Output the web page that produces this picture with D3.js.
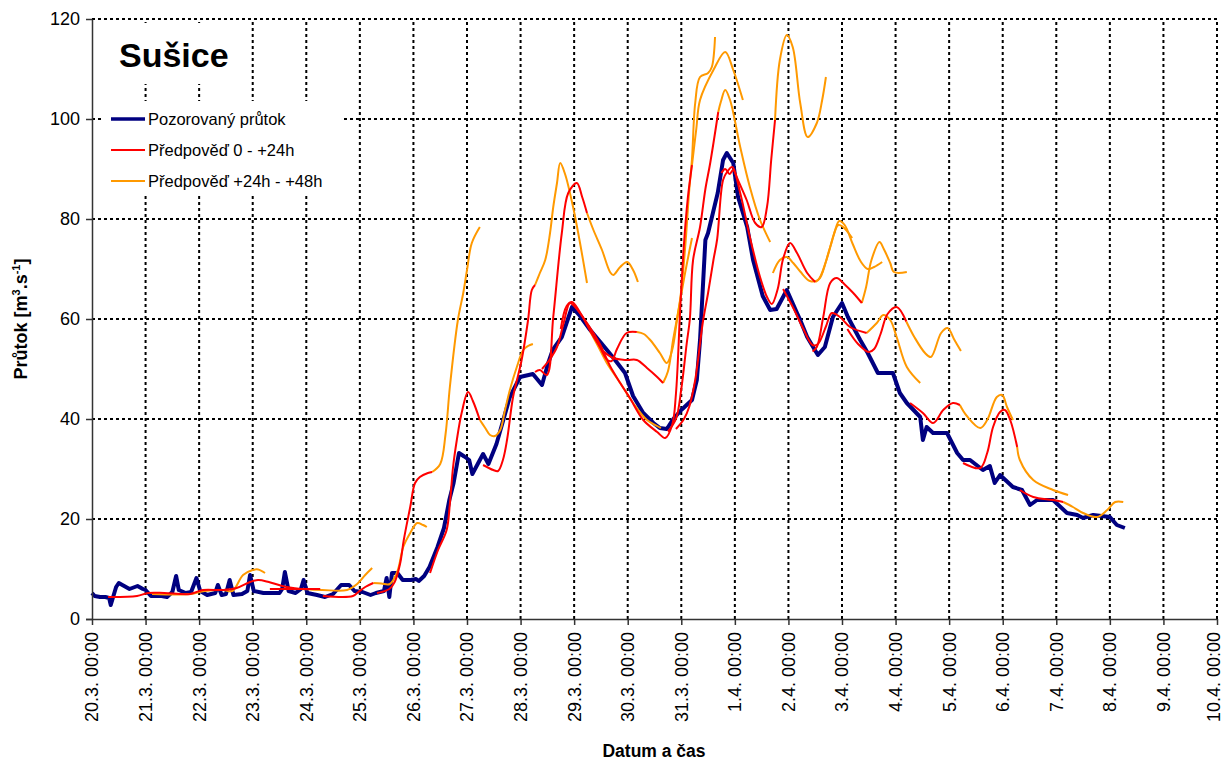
<!DOCTYPE html>
<html>
<head>
<meta charset="utf-8">
<script src="https://cdn.jsdelivr.net/npm/d3@7"></script>
<style>
  html, body { margin: 0; padding: 0; background: #fff; }
  svg { display: block; font-family: Arial, "Liberation Sans", sans-serif; }
</style>
</head>
<body>
<svg id="chart" width="1225" height="763"></svg>
<script>
// Day offsets counted from 20.3. 00:00
const dayTicks = d3.range(0, 22);
const tickLabels = [
  "20.3. 00:00", "21.3. 00:00", "22.3. 00:00", "23.3. 00:00", "24.3. 00:00",
  "25.3. 00:00", "26.3. 00:00", "27.3. 00:00", "28.3. 00:00", "29.3. 00:00",
  "30.3. 00:00", "31.3. 00:00", "1.4. 00:00", "2.4. 00:00", "3.4. 00:00",
  "4.4. 00:00", "5.4. 00:00", "6.4. 00:00", "7.4. 00:00", "8.4. 00:00",
  "9.4. 00:00", "10.4. 00:00"
];
const flowTicks = [0, 20, 40, 60, 80, 100, 120];

// Observed discharge [day, m3/s]
const observed = [
  [0.0,5.2],[0.05,4.6],[0.15,4.4],[0.25,4.4],[0.32,4.2],[0.35,2.8],[0.4,4.6],[0.45,6.4],[0.5,7.2],
  [0.6,6.6],[0.7,6.0],[0.85,6.6],[0.95,6.0],[1.0,5.8],[1.1,4.6],[1.3,4.6],[1.4,4.4],[1.5,5.4],
  [1.57,8.6],[1.62,5.8],[1.75,5.2],[1.85,5.4],[1.95,8.2],[2.02,5.6],[2.15,4.8],[2.3,5.2],[2.35,6.8],
  [2.42,4.8],[2.5,5.0],[2.57,7.8],[2.64,4.8],[2.8,5.0],[2.9,5.6],[2.95,8.8],[3.02,5.6],[3.2,5.2],
  [3.5,5.2],[3.55,6.0],[3.6,9.4],[3.67,5.6],[3.8,5.2],[3.9,6.0],[3.95,7.8],[4.02,5.2],[4.2,4.8],
  [4.35,4.4],[4.5,5.0],[4.65,6.8],[4.8,6.8],[4.9,5.6],[5.05,5.4],[5.2,4.8],[5.3,5.2],[5.45,5.6],
  [5.5,8.2],[5.55,4.4],[5.6,9.2],[5.7,9.2],[5.8,7.8],[5.95,7.8],[6.05,8.0],[6.1,7.6],[6.2,8.6],
  [6.3,10.4],[6.45,14.4],[6.57,18.2],[6.67,23.8],[6.75,27.2],[6.85,33.2],[6.95,32.5],[7.04,31.8],
  [7.1,29.0],[7.2,31.0],[7.3,33.0],[7.4,31.0],[7.55,35.0],[7.8,44.4],[7.99,48.4],[8.23,49.0],
  [8.4,46.8],[8.51,51.0],[8.6,53.8],[8.77,56.4],[8.96,62.4],[9.11,60.6],[9.3,57.8],[9.52,55.0],
  [9.72,52.4],[9.95,49.2],[10.1,44.6],[10.29,41.2],[10.48,39.2],[10.6,38.2],[10.73,38.0],
  [10.85,40.0],[11.0,41.8],[11.2,43.8],[11.29,47.8],[11.35,55.8],[11.45,75.8],[11.5,77.2],
  [11.68,85.2],[11.78,91.8],[11.85,93.2],[11.97,91.2],[12.06,84.4],[12.23,78.4],[12.34,71.8],
  [12.52,64.6],[12.66,61.8],[12.78,62.0],[12.97,65.8],[13.16,61.2],[13.22,59.8],[13.35,56.4],
  [13.55,52.8],[13.68,54.4],[13.83,60.4],[14.0,63.2],[14.11,60.4],[14.34,55.8],[14.48,53.2],
  [14.67,49.2],[14.95,49.2],[15.08,45.2],[15.21,43.2],[15.46,40.4],[15.51,35.8],[15.58,38.4],
  [15.7,37.2],[15.96,37.2],[16.15,33.2],[16.26,31.8],[16.39,31.8],[16.63,29.8],[16.76,30.6],
  [16.85,27.2],[16.95,28.8],[17.19,26.4],[17.36,25.8],[17.51,22.8],[17.64,23.8],[17.94,23.8],
  [18.2,21.2],[18.39,20.8],[18.5,20.2],[18.69,20.8],[19.0,20.4],[19.13,18.8],[19.28,18.2]
];

// Forecast runs, first 24 hours of each run
const forecastFirstDay = [
  [[0.30,4.4],[0.84,4.6],[1.05,5.2],[1.35,5.2],[1.83,5.0],[2.07,5.8],[2.45,5.8],[2.7,6.2],[2.95,7.4],[3.1,7.8],[3.3,7.4],[3.55,6.6],[3.9,6.0]],
  [[3.32,6.0],[4.26,6.0]],
  [[4.31,4.6],[4.87,4.6],[4.97,5.4],[5.1,6.4],[5.25,7.2]],
  [[5.32,5.2],[5.55,6.0],[5.65,7.4],[5.75,11.0],[5.82,15.8],[5.94,22.4],[6.03,27.2],[6.12,28.4],[6.27,29.2],[6.35,29.4]],
  [[6.31,9.2],[6.46,13.8],[6.62,17.8],[6.68,23.0],[6.74,30.4],[6.81,35.8],[6.9,41.2],[7.02,45.4],[7.11,43.6],[7.24,39.8]],
  [[7.3,30.8],[7.49,29.8],[7.58,29.6],[7.67,31.8],[7.75,36.0],[7.86,44.4],[8.02,51.8],[8.14,59.8],[8.21,65.8],[8.27,66.8]],
  [[8.27,49.4],[8.36,49.8],[8.49,48.8],[8.61,60.4],[8.77,77.2],[8.89,85.2],[9.05,87.2],[9.15,84.4],[9.24,81.2]],
  [[8.4,50.0],[8.55,52.0],[8.68,54.4],[8.8,59.0],[8.92,63.2],[9.0,62.6],[9.24,59.2],[9.48,55.0],[9.67,50.6],[9.86,47.2],[10.04,44.2],[10.29,39.8],[10.55,37.4],[10.7,36.2],[10.83,38.8],[10.9,45.0],[10.98,62.0],[11.05,75.0],[11.12,84.0],[11.2,90.8]],
  [[8.75,58.0],[8.86,62.6],[8.96,63.4],[9.1,61.5],[9.3,57.6],[9.48,54.4],[9.62,51.8],[9.7,51.6],[9.8,54.0],[9.98,57.2],[10.17,57.4]],
  [[9.55,53.5],[9.73,52.2],[9.98,51.8],[10.17,51.8],[10.36,50.2],[10.55,48.4],[10.66,47.2]],
  [[10.75,37.5],[10.9,40.0],[11.0,46.0],[11.1,55.0],[11.16,60.0],[11.22,71.8],[11.35,78.4],[11.45,86.0],[11.54,91.2],[11.69,101.4]],
  [[10.9,38.0],[11.05,40.0],[11.15,42.5],[11.26,47.8],[11.4,59.2],[11.5,65.2],[11.6,71.8],[11.67,76.0],[11.78,87.8],[11.86,89.5],[11.95,90.4],[12.05,88.0],[12.22,83.8],[12.38,79.2],[12.5,78.4],[12.6,82.4],[12.68,92.0],[12.75,99.8]],
  [[11.75,89.2],[11.82,90.0],[11.9,89.0],[11.97,89.8],[12.1,85.2],[12.28,76.4],[12.47,68.4],[12.6,64.4],[12.69,63.0],[12.8,66.0],[12.9,72.0],[13.03,75.2],[13.16,73.2],[13.35,69.2],[13.5,67.4]],
  [[12.9,66.0],[13.1,62.0],[13.27,58.2],[13.45,54.8],[13.55,55.0],[13.7,58.5],[13.81,61.2],[13.96,60.4],[14.15,58.4],[14.46,57.2]],
  [[13.45,53.5],[13.53,54.4],[13.65,60.4],[13.78,67.2],[13.9,68.2],[14.06,66.8],[14.21,65.2],[14.37,63.2]],
  [[14.1,58.0],[14.3,55.0],[14.5,53.4],[14.6,54.0],[14.72,57.0],[14.85,61.0],[15.02,62.4],[15.2,59.5]],
  [[15.27,43.2],[15.51,41.2],[15.7,39.2],[15.89,41.8],[16.07,43.2],[16.2,42.8]],
  [[16.26,31.2],[16.58,30.2],[16.71,33.2],[16.82,38.4],[16.95,41.4],[17.04,41.8],[17.14,39.8],[17.27,34.4]],
  [[17.32,25.8],[17.57,24.4],[17.94,23.8],[18.13,23.4]]
];

// Forecast runs, hours +24 to +48
const forecastSecondDay = [
  [[1.12,5.0],[1.6,4.9],[1.85,5.0],[2.1,5.6],[2.45,5.8],[2.62,5.6],[2.82,8.8],[3.0,9.8],[3.1,9.9],[3.23,9.2]],
  [[3.9,6.0],[4.3,5.8],[4.76,5.8],[4.95,7.0],[5.1,8.8],[5.23,10.2]],
  [[5.25,7.2],[5.4,7.1],[5.56,7.0],[5.7,9.5],[5.81,14.4],[5.94,17.2],[6.07,19.2],[6.18,18.8],[6.25,18.4]],
  [[6.35,29.4],[6.5,31.0],[6.6,37.0],[6.68,46.4],[6.83,59.8],[6.93,65.2],[7.0,69.8],[7.09,75.2],[7.24,78.4]],
  [[7.24,39.8],[7.34,38.2],[7.43,36.8],[7.52,36.6],[7.62,37.8],[7.71,41.8],[7.8,45.8],[7.93,50.4],[8.05,53.8],[8.14,54.6],[8.23,55.0]],
  [[8.27,66.8],[8.36,69.2],[8.46,71.8],[8.55,77.2],[8.61,82.4],[8.68,87.2],[8.74,91.2],[8.83,89.0],[8.98,82.4],[9.11,75.2],[9.24,67.2]],
  [[9.24,81.2],[9.36,77.8],[9.52,73.8],[9.67,69.4],[9.73,68.8],[9.86,70.4],[9.99,71.4],[10.1,69.8],[10.19,67.4]],
  [[10.17,57.4],[10.3,57.0],[10.42,55.8],[10.6,53.2],[10.73,51.2],[10.83,53.8],[10.92,59.8],[11.05,68.0],[11.2,76.2]],
  [[9.3,57.5],[9.45,54.5],[9.61,51.2],[9.86,47.2],[10.1,43.2],[10.36,39.8],[10.55,38.6],[10.62,38.2]],
  [[10.66,47.2],[10.75,49.5],[10.85,56.0],[10.98,64.0],[11.07,74.0],[11.15,86.0],[11.2,92.0],[11.26,103.2],[11.35,108.4],[11.5,109.2],[11.57,110.4],[11.63,116.4]],
  [[11.2,90.8],[11.28,98.0],[11.35,103.8],[11.6,109.8],[11.82,113.4],[11.97,109.8],[12.15,103.8]],
  [[11.69,101.4],[11.74,103.5],[11.82,105.8],[11.91,103.8],[12.1,94.4],[12.28,86.4],[12.47,79.8],[12.66,75.4]],
  [[12.75,99.8],[12.84,111.8],[12.97,116.8],[13.08,114.4],[13.22,103.2],[13.36,96.4],[13.53,99.2],[13.63,103.8],[13.7,108.4]],
  [[12.71,69.2],[12.84,71.8],[12.97,72.4],[13.09,71.2],[13.22,69.5],[13.4,67.6],[13.55,67.8],[13.7,71.5],[13.85,77.0],[13.95,79.6],[14.05,78.8],[14.2,75.0],[14.35,71.5],[14.48,70.0],[14.6,70.4],[14.75,71.4]],
  [[13.5,67.4],[13.59,68.2],[13.78,74.4],[13.93,78.8],[14.02,78.4],[14.19,76.2]],
  [[14.37,63.2],[14.45,66.4],[14.55,71.8],[14.7,75.4],[14.78,74.0],[14.9,71.2],[14.97,69.4],[15.21,69.4]],
  [[14.46,57.2],[14.65,59.2],[14.77,60.8],[14.9,59.8],[15.02,56.4],[15.21,50.4],[15.46,47.2]],
  [[15.2,59.5],[15.35,56.4],[15.55,53.2],[15.66,52.4],[15.85,57.2],[15.97,58.2],[16.1,55.8],[16.22,53.6]],
  [[16.2,42.8],[16.33,40.6],[16.58,38.2],[16.71,39.8],[16.89,44.4],[16.99,44.8],[17.08,42.4],[17.19,39.8]],
  [[17.27,34.4],[17.32,31.8],[17.57,27.8],[17.94,25.8],[18.22,24.8]],
  [[18.13,23.4],[18.31,22.4],[18.5,21.2],[18.76,20.4],[18.95,21.8],[19.1,23.4],[19.25,23.4]]
];

const seriesNames = ["Pozorovaný průtok", "Předpověď 0 - +24h", "Předpověď +24h - +48h"];
const seriesColors = ["#000080", "#ff0000", "#ff9900"];
const seriesWidths = [4, 2, 2];

const plot = { left: 92, right: 1217, top: 19, bottom: 619 };
const svg = d3.select("#chart");

const x = d3.scaleLinear().domain([0, 21]).range([plot.left, plot.right]);
const y = d3.scaleLinear().domain([0, 120]).range([plot.bottom, plot.top]);

// Dotted grid
const grid = svg.append("g").attr("stroke", "#000").attr("stroke-width", 2)
  .attr("stroke-dasharray", "3,3").attr("fill", "none");
grid.selectAll("line.h").data(flowTicks.filter(v => v > 0)).join("line")
  .attr("class", "h")
  .attr("x1", plot.left).attr("x2", plot.right)
  .attr("y1", d => y(d)).attr("y2", d => y(d));
grid.selectAll("line.v").data(dayTicks.filter(d => d > 0)).join("line")
  .attr("class", "v")
  .attr("y1", plot.bottom).attr("y2", plot.top)
  .attr("x1", d => x(d)).attr("x2", d => x(d));

// Title and legend panels sit over the grid
svg.append("rect").attr("x", 104).attr("y", 23).attr("width", 140).attr("height", 61).attr("fill", "#fff");
svg.append("text").attr("x", 119).attr("y", 67)
  .attr("font-size", 34).attr("font-weight", "bold").text("Sušice");

const legend = svg.append("g");
legend.append("rect").attr("x", 101).attr("y", 101).attr("width", 242).attr("height", 94).attr("fill", "#fff");
seriesNames.forEach((name, i) => {
  const ly = 119 + i * 31;
  legend.append("line").attr("x1", 111).attr("x2", 145).attr("y1", ly).attr("y2", ly)
    .attr("stroke", seriesColors[i]).attr("stroke-width", i === 0 ? 3.5 : 2);
  legend.append("text").attr("x", 148).attr("y", ly).attr("dy", "0.35em")
    .attr("font-size", 16.5).text(name);
});

// Series
const obsLine = d3.line().x(d => x(d[0])).y(d => y(d[1]));
const fcLine = d3.line().x(d => x(d[0])).y(d => y(d[1])).curve(d3.curveCatmullRom.alpha(0.5));

svg.append("path").datum(observed)
  .attr("d", obsLine).attr("fill", "none")
  .attr("stroke", seriesColors[0]).attr("stroke-width", seriesWidths[0])
  .attr("stroke-linejoin", "round");

svg.append("g").selectAll("path").data(forecastSecondDay).join("path")
  .attr("d", fcLine).attr("fill", "none")
  .attr("stroke", seriesColors[2]).attr("stroke-width", seriesWidths[2])
  .attr("stroke-linejoin", "round");

svg.append("g").selectAll("path").data(forecastFirstDay).join("path")
  .attr("d", fcLine).attr("fill", "none")
  .attr("stroke", seriesColors[1]).attr("stroke-width", seriesWidths[1])
  .attr("stroke-linejoin", "round");

// Axes
const yAxis = svg.append("g").attr("transform", `translate(${plot.left},0)`)
  .call(d3.axisLeft(y).tickValues(flowTicks).tickSize(6).tickSizeOuter(0).tickPadding(6));
yAxis.selectAll("text").attr("font-size", 18).attr("font-family", "Arial, 'Liberation Sans', sans-serif").attr("fill", "#000");
yAxis.selectAll("line, path").attr("stroke", "#333").attr("stroke-width", 1.5);

const xAxis = svg.append("g").attr("transform", `translate(0,${plot.bottom})`)
  .call(d3.axisBottom(x).tickValues(dayTicks).tickFormat((d, i) => tickLabels[i]).tickSize(6).tickSizeOuter(0));
xAxis.select("path.domain").attr("d", `M${plot.left - 6},0.5H${plot.right}`);
xAxis.selectAll("line, path").attr("stroke", "#333").attr("stroke-width", 1.5);
// Vertical labels; the last one is nudged so it stays inside the page edge
xAxis.selectAll("text")
  .attr("font-size", 18).attr("font-family", "Arial, 'Liberation Sans', sans-serif").attr("fill", "#000")
  .attr("transform", "rotate(-90)")
  .attr("x", -13).attr("y", (d, i) => i === dayTicks.length - 1 ? -3 : 0).attr("dy", "0.33em")
  .style("text-anchor", "end");

// Axis titles
svg.append("text").attr("x", 654).attr("y", 757).attr("text-anchor", "middle")
  .attr("font-size", 17.5).attr("font-weight", "bold").text("Datum a čas");

const yTitle = svg.append("text").attr("transform", "translate(27,319) rotate(-90)")
  .attr("text-anchor", "middle").attr("font-size", 18).attr("font-weight", "bold");
yTitle.append("tspan").text("Průtok [m");
yTitle.append("tspan").attr("dy", -7).attr("font-size", 11).text("3");
yTitle.append("tspan").attr("dy", 7).text(".s");
yTitle.append("tspan").attr("dy", -7).attr("font-size", 11).text("-1");
yTitle.append("tspan").attr("dy", 7).text("]");
</script>
</body>
</html>
